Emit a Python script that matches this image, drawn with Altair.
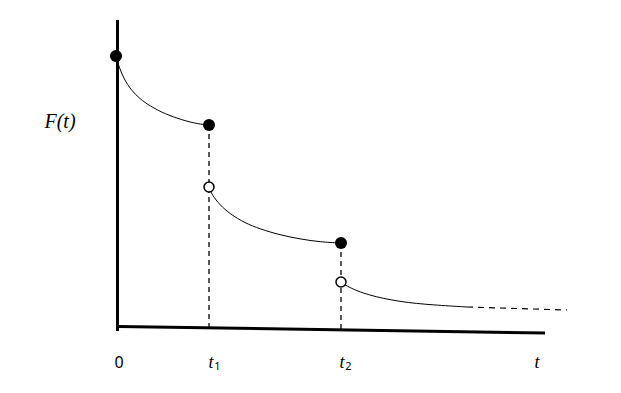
import altair as alt
import pandas as pd

# Pixel-space coordinates (x right, y down)
curve1_x = [116, 119, 124, 131, 140, 150, 165, 182, 198, 209]
curve1_y = [56, 67, 79, 90, 99, 106, 114, 120, 124, 125]
curve2_x = [209, 212, 220, 230, 245, 260, 280, 300, 320, 341]
curve2_y = [187, 195, 205, 214, 223, 229, 235, 239, 242, 243]
curve3_x = [341, 348, 367, 400, 433, 467]
curve3_y = [282, 287, 295, 302, 305, 307]

tail_x = [467, 567]
tail_y = [307, 310]

filled_x = [116, 209, 341]
filled_y = [56, 125, 243]
open_x = [209, 341]
open_y = [187, 282]

drop_x = [209, 341]
drop_top = [125, 243]
drop_bot = [327, 330]

axis_x1 = [117.5, 118]
axis_y1 = [20, 326.5]
axis_x2 = [117.5, 545]
axis_y2 = [331, 333]

lab_text = ["0", "t", "t", "t"]
lab_x = [119, 211, 342, 537]
lab_y = [363, 363, 363, 363]
sub_text = ["1", "2"]
sub_x = [217.5, 348.5]
sub_y = [367, 367]

W, H = 605, 377
xs = alt.Scale(domain=[8, 8 + W], nice=False, zero=False)
ys = alt.Scale(domain=[8, 8 + H], nice=False, zero=False, reverse=True)
X = lambda f: alt.X(f, type="quantitative", scale=xs, axis=None)
Y = lambda f: alt.Y(f, type="quantitative", scale=ys, axis=None)

curves = pd.DataFrame({
    "x": curve1_x + curve2_x + curve3_x,
    "y": curve1_y + curve2_y + curve3_y,
    "seg": [1] * len(curve1_x) + [2] * len(curve2_x) + [3] * len(curve3_x),
    "o": list(range(len(curve1_x))) + list(range(len(curve2_x))) + list(range(len(curve3_x))),
})
curve_layer = alt.Chart(curves).mark_line(color="black", strokeWidth=1, interpolate="basis").encode(
    x=X("x"), y=Y("y"), detail="seg:N", order="o:Q")

tail = pd.DataFrame({"x": tail_x, "y": tail_y})
tail_layer = alt.Chart(tail).mark_line(color="black", strokeWidth=1.2, strokeDash=[6, 5]).encode(
    x=X("x"), y=Y("y"))

drops = pd.DataFrame({"x": drop_x, "y": drop_top, "y2": drop_bot})
drop_layer = alt.Chart(drops).mark_rule(color="black", strokeWidth=1.3, strokeDash=[5, 4]).encode(
    x=X("x"), y=Y("y"), y2="y2")

axes = pd.DataFrame({"x": axis_x1, "y": axis_y1, "x2": axis_x2, "y2": axis_y2})
axis_layer = alt.Chart(axes).mark_rule(color="black", strokeWidth=3).encode(
    x=X("x"), y=Y("y"), x2="x2", y2="y2")

filled = pd.DataFrame({"x": filled_x, "y": filled_y})
filled_layer = alt.Chart(filled).mark_point(filled=True, color="black", size=145, opacity=1).encode(
    x=X("x"), y=Y("y"))

opn = pd.DataFrame({"x": open_x, "y": open_y})
open_layer = alt.Chart(opn).mark_point(filled=True, fill="white", stroke="black", strokeWidth=1.5,
                                       size=100, opacity=1).encode(x=X("x"), y=Y("y"))

labels = pd.DataFrame({"x": lab_x, "y": lab_y, "t": lab_text})
lab_zero = alt.Chart(labels.iloc[:1]).mark_text(font="Noto Sans", fontSize=16, color="black",
                                                 baseline="middle").encode(x=X("x"), y=Y("y"), text="t:N")
lab_t = alt.Chart(labels.iloc[1:]).mark_text(font="Liberation Serif", fontStyle="italic", fontSize=18,
                                              color="black", baseline="middle").encode(
    x=X("x"), y=Y("y"), text="t:N")
subs = pd.DataFrame({"x": sub_x, "y": sub_y, "t": sub_text})
sub_layer = alt.Chart(subs).mark_text(font="Noto Sans", fontSize=11, color="black",
                                      baseline="middle").encode(x=X("x"), y=Y("y"), text="t:N")

ylab = pd.DataFrame({"x": [60], "y": [122], "t": ["F(t)"]})
ylab_layer = alt.Chart(ylab).mark_text(font="Liberation Serif", fontStyle="italic", fontSize=20,
                                       color="black", baseline="middle").encode(
    x=X("x"), y=Y("y"), text="t:N")

chart = alt.layer(axis_layer, curve_layer, tail_layer, drop_layer, filled_layer, open_layer,
                  lab_zero, lab_t, sub_layer, ylab_layer).properties(
    width=W, height=H, padding=0, background="white",
    autosize=alt.AutoSizeParams(type="none")
).configure_view(stroke=None)

chart.save("out.html", embed_options={"renderer": "svg", "actions": False})
